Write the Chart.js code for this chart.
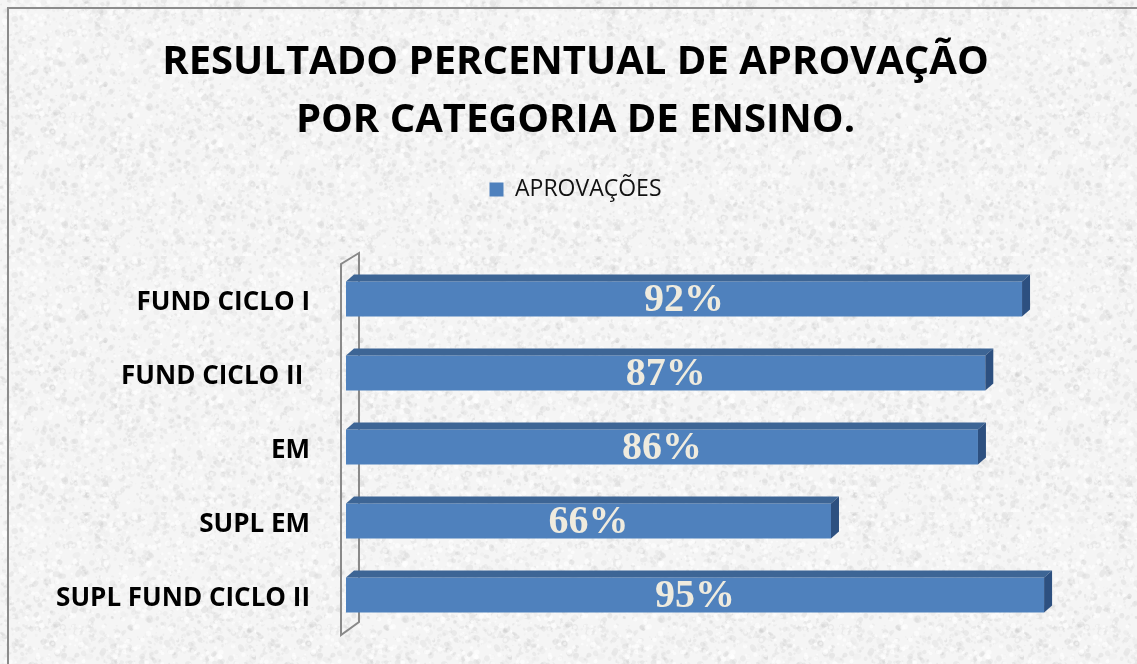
<!DOCTYPE html>
<html>
<head>
<meta charset="utf-8">
<script src="https://cdn.jsdelivr.net/npm/chart.js@4.4.1/dist/chart.umd.min.js"></script>
<style>
  html, body { margin: 0; padding: 0; overflow: hidden; background: #f3f3f3; }
  #wrap { width: 1137px; height: 664px; position: relative; }
</style>
</head>
<body>
<div id="wrap"><canvas id="grafica"></canvas></div>
<script>
const categorias = ['FUND CICLO I', 'FUND CICLO II ', 'EM', 'SUPL EM', 'SUPL FUND CICLO II'];
const aprovacoes = [92, 87, 86, 66, 95];
const rotuloSerie = 'APROVAÇÕES';
const titulo = ['RESULTADO PERCENTUAL DE APROVAÇÃO', 'POR CATEGORIA DE ENSINO.'];

const azul = '#4f81bd';
const azulTopo = '#3d6595';
const azulLado = '#2d5080';

// textura de fundo (pseudo-aleatorio deterministico)
function texturaFundo() {
  const c = document.createElement('canvas');
  c.width = 256; c.height = 256;
  const g = c.getContext('2d');
  g.fillStyle = '#f5f5f5';
  g.fillRect(0, 0, 256, 256);
  let s = 12345;
  const rnd = () => { s = (s * 1103515245 + 12345) % 2147483648; return s / 2147483648; };
  for (let i = 0; i < 2200; i++) {
    const x = rnd() * 256, y = rnd() * 256, r = 0.6 + rnd() * 2.4;
    const tom = Math.round(185 + rnd() * 45);
    g.fillStyle = `rgba(${tom},${tom},${tom},0.22)`;
    g.beginPath();
    g.ellipse(x, y, r, r * (0.5 + rnd()), rnd() * 3.14, 0, Math.PI * 2);
    g.fill();
  }
  for (let i = 0; i < 900; i++) {
    const x = rnd() * 256, y = rnd() * 256, r = 0.8 + rnd() * 2;
    g.fillStyle = 'rgba(255,255,255,0.55)';
    g.beginPath();
    g.arc(x, y, r, 0, Math.PI * 2);
    g.fill();
  }
  return c;
}

const fundo = {
  id: 'fundo',
  beforeDraw(chart) {
    const ctx = chart.ctx;
    ctx.save();
    ctx.fillStyle = ctx.createPattern(texturaFundo(), 'repeat');
    ctx.fillRect(0, 0, chart.width, chart.height);
    ctx.strokeStyle = '#8c8c8c';
    ctx.lineWidth = 2;
    ctx.beginPath();
    ctx.moveTo(8, chart.height);
    ctx.lineTo(8, 8);
    ctx.lineTo(chart.width, 8);
    ctx.stroke();
    ctx.restore();
  },
  beforeDatasetsDraw(chart) {
    const { ctx, chartArea: a } = chart;
    ctx.save();
    ctx.strokeStyle = '#8a8a8a';
    ctx.lineWidth = 2;
    ctx.beginPath();
    ctx.moveTo(a.left + 13, a.top - 9);
    ctx.lineTo(a.left - 5, a.top + 2);
    ctx.lineTo(a.left - 5, a.bottom + 3);
    ctx.lineTo(a.left + 13, a.bottom - 10);
    ctx.closePath();
    ctx.stroke();
    ctx.restore();
  }
};

const barras3d = {
  id: 'barras3d',
  afterDatasetsDraw(chart) {
    const ctx = chart.ctx;
    const dx = 8, dy = -7;
    const meta = chart.getDatasetMeta(0);
    ctx.save();
    meta.data.forEach((bar, i) => {
      const p = bar.getProps(['x', 'y', 'base', 'height'], true);
      const top = p.y - p.height / 2, bottom = p.y + p.height / 2;
      ctx.fillStyle = azulTopo;
      ctx.beginPath();
      ctx.moveTo(p.base, top);
      ctx.lineTo(p.base + dx, top + dy);
      ctx.lineTo(p.x + dx, top + dy);
      ctx.lineTo(p.x, top);
      ctx.closePath();
      ctx.fill();
      ctx.fillStyle = azulLado;
      ctx.beginPath();
      ctx.moveTo(p.x, top);
      ctx.lineTo(p.x + dx, top + dy);
      ctx.lineTo(p.x + dx, bottom + dy);
      ctx.lineTo(p.x, bottom);
      ctx.closePath();
      ctx.fill();
      // rotulo
      ctx.fillStyle = '#efebde';
      ctx.font = 'bold 40px "Liberation Serif"';
      ctx.textAlign = 'center';
      ctx.textBaseline = 'middle';
      ctx.fillText(aprovacoes[i] + '%', (p.base + p.x) / 2, p.y + 2);
    });
    ctx.restore();
  }
};

new Chart(document.getElementById('grafica').getContext('2d'), {
  type: 'bar',
  data: {
    labels: categorias,
    datasets: [
      {
        label: rotuloSerie,
        data: aprovacoes,
        backgroundColor: azul,
        borderWidth: 0,
        barPercentage: 0.47,
        categoryPercentage: 1
      }
    ]
  },
  options: {
    indexAxis: 'y',
    responsive: true,
    maintainAspectRatio: false,
    animation: false,
    layout: { padding: { top: 20, left: 18, right: 4, bottom: 32 } },
    plugins: {
      tooltip: { enabled: false },
      legend: {
        display: true,
        labels: {
          boxWidth: 14,
          boxHeight: 14,
          padding: 10,
          color: '#111',
          font: { family: '"Open Sans"', size: 23 }
        }
      },
      title: {
        display: true,
        text: titulo,
        color: '#000',
        padding: { top: 14, bottom: 18 },
        font: { family: '"Open Sans"', size: 40, weight: 'bold', lineHeight: 1.45 }
      }
    },
    scales: {
      x: {
        position: 'top',
        min: 0,
        max: 107.1,
        grid: { display: false },
        border: { display: false },
        ticks: { display: false },
        afterFit: (s) => { s.height = 51; }
      },
      y: {
        grid: { display: false, drawTicks: false },
        border: { display: false },
        ticks: {
          color: '#000',
          padding: 36,
          labelOffset: 4,
          font: { family: '"Open Sans"', size: 26, weight: 'bold' }
        },
        afterFit: (s) => { s.width = 328; s.paddingTop = 0; s.paddingBottom = 0; }
      }
    }
  },
  plugins: [fundo, barras3d]
});
</script>
</body>
</html>
